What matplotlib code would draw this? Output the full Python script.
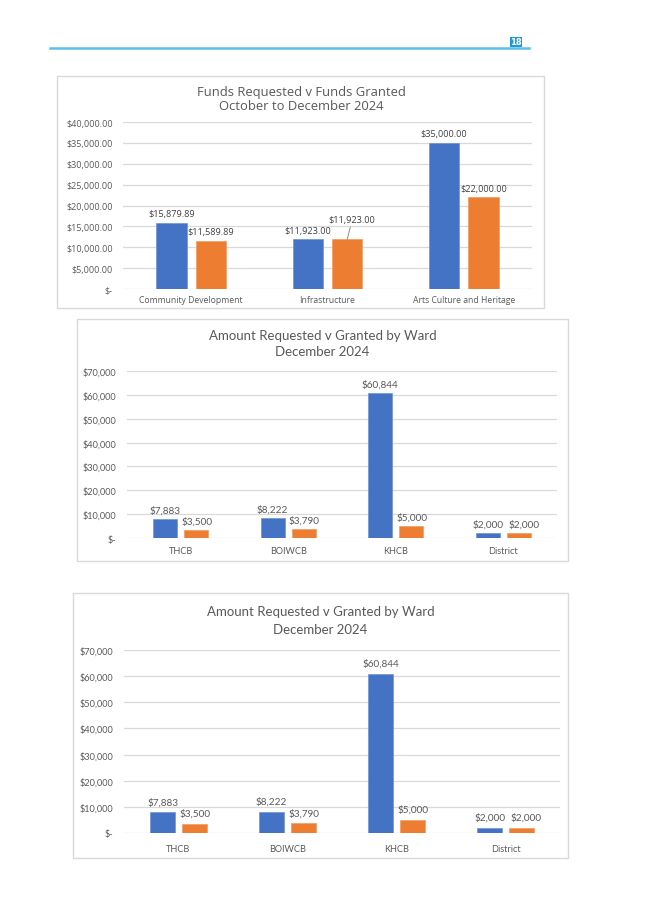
import matplotlib
matplotlib.use("Agg")
import matplotlib.pyplot as plt
from matplotlib.patches import Rectangle
import numpy as np

# ---------------- data ----------------
c1_categories = ["Community Development", "Infrastructure", "Arts Culture and Heritage"]
c1_requested = [15879.89, 11923.00, 35000.00]
c1_granted = [11589.89, 11923.00, 22000.00]
c1_title = "Funds Requested v Funds Granted\nOctober to December 2024"
c1_yticks = [0, 5000, 10000, 15000, 20000, 25000, 30000, 35000, 40000]

ward_categories = ["THCB", "BOIWCB", "KHCB", "District"]
ward_requested = [7883, 8222, 60844, 2000]
ward_granted = [3500, 3790, 5000, 2000]
ward_title = "Amount Requested v Granted by Ward\nDecember 2024"
ward_yticks = [0, 10000, 20000, 30000, 40000, 50000, 60000, 70000]

page_number = "18"

BLUE = "#4472C4"
ORANGE = "#ED7D31"
GRID = "#D9D9D9"
TXT = "#595959"
LBL = "#404040"

W, H = 645, 912
fig = plt.figure(figsize=(W / 100, H / 100), dpi=100)
fig.patch.set_facecolor("white")


def fx(x):
    return x / W


def fy(y):
    return 1 - y / H


def add_box(x0, y0, x1, y1):
    fig.patches.append(Rectangle((fx(x0), fy(y1)), fx(x1) - fx(x0), fy(y0) - fy(y1),
                                 transform=fig.transFigure, facecolor="none",
                                 edgecolor=GRID, linewidth=1.0, zorder=-1))


def add_axes(x0, y0, x1, y1):
    ax = fig.add_axes([fx(x0), fy(y1), fx(x1) - fx(x0), fy(y0) - fy(y1)])
    ax.set_facecolor("none")
    for s in ax.spines.values():
        s.set_visible(False)
    return ax


def money_dec(v):
    return "$-" if v == 0 else "${:,.2f}".format(v)


def money_int(v):
    return "$-" if v == 0 else "${:,.0f}".format(v)


# ---------------- header ----------------
fig.add_artist(plt.Line2D([fx(50), fx(529)], [fy(49), fy(49)], transform=fig.transFigure,
                          color="#5BC0E8", linewidth=1.8))
fig.patches.append(Rectangle((fx(510), fy(47.5)), fx(11.5), fy(37.5) - fy(47.5),
                             transform=fig.transFigure, facecolor="#1E9BD7",
                             edgecolor="none", zorder=1))
fig.text(fx(515.8), fy(42.6), page_number, color="white", fontsize=6, fontweight="bold",
         ha="center", va="center", family="DejaVu Sans", zorder=2)

# ---------------- chart 1 ----------------
add_box(57, 77, 544, 309)
ax1 = add_axes(123, 123, 532, 290)
x1 = np.arange(len(c1_categories))
off, bw = 0.145, 0.222
ax1.bar(x1 - off, c1_requested, bw, color=BLUE, edgecolor="#6F93D6", linewidth=0.5, zorder=3)
ax1.bar(x1 + off, c1_granted, bw, color=ORANGE, edgecolor="#F29B63", linewidth=0.5, zorder=3)
ax1.set_xlim(-0.5, len(c1_categories) - 0.5)
ax1.set_ylim(0, 40000)
ax1.set_yticks(c1_yticks)
ax1.set_yticklabels([money_dec(v) for v in c1_yticks])
ax1.set_xticks(x1)
ax1.set_xticklabels(c1_categories)
ax1.yaxis.grid(True, color=GRID, linewidth=0.9, zorder=0)
ax1.tick_params(axis="y", length=0, pad=7.5, labelsize=6.5, labelcolor=TXT)
ax1.tick_params(axis="x", length=0, pad=4, labelsize=6.2, labelcolor=TXT)
for lab in ax1.get_xticklabels() + ax1.get_yticklabels():
    lab.set_family("Open Sans")
for i, v in enumerate(c1_requested):
    ax1.annotate(money_dec(v), (x1[i] - off, v), xytext=(0, 6.5), textcoords="offset points",
                 ha="center", va="center", fontsize=6.6, color=LBL, family="Open Sans")
for i, v in enumerate(c1_granted):
    if i == 1:
        ax1.annotate(money_dec(v), (x1[i] + off, v), xytext=(3.5, 14), textcoords="offset points",
                     ha="center", va="center", fontsize=6.6, color=LBL, family="Open Sans",
                     arrowprops=dict(arrowstyle="-", color="#8C8C8C", linewidth=0.7,
                                     shrinkA=0, shrinkB=0))
    else:
        ax1.annotate(money_dec(v), (x1[i] + off, v), xytext=(0, 6.5), textcoords="offset points",
                     ha="center", va="center", fontsize=6.6, color=LBL, family="Open Sans")
fig.text(fx(301), fy(99.5), c1_title, ha="center", va="center", fontsize=9.4, color=TXT,
         family="Open Sans", linespacing=1.15)


# ---------------- ward charts ----------------
def ward_chart(box, axr, title_y, title_ls, lbl_off, xpad):
    add_box(*box)
    ax = add_axes(*axr)
    x = np.arange(len(ward_categories))
    off, bw = 0.145, 0.225
    ax.bar(x - off, ward_requested, bw, color=BLUE, edgecolor="#6F93D6", linewidth=0.5, zorder=3)
    ax.bar(x + off, ward_granted, bw, color=ORANGE, edgecolor="#F29B63", linewidth=0.5, zorder=3)
    ax.set_xlim(-0.5, len(ward_categories) - 0.5)
    ax.set_ylim(0, 70000)
    ax.set_yticks(ward_yticks)
    ax.set_yticklabels([money_int(v) for v in ward_yticks])
    ax.set_xticks(x)
    ax.set_xticklabels(ward_categories)
    ax.yaxis.grid(True, color=GRID, linewidth=0.9, zorder=0)
    ax.tick_params(axis="y", length=0, pad=7.5, labelsize=6.6, labelcolor=TXT)
    ax.tick_params(axis="x", length=0, pad=xpad, labelsize=6.6, labelcolor=TXT)
    for lab in ax.get_xticklabels() + ax.get_yticklabels():
        lab.set_family("Lato")
    for i, v in enumerate(ward_requested):
        ax.annotate(money_int(v), (x[i] - off, v), xytext=(0, lbl_off), textcoords="offset points",
                    ha="center", va="center", fontsize=7.2, color=TXT, family="Lato")
    for i, v in enumerate(ward_granted):
        dx = 3.5 if i == len(ward_granted) - 1 else 0.5
        ax.annotate(money_int(v), (x[i] + off, v), xytext=(dx, lbl_off), textcoords="offset points",
                    ha="center", va="center", fontsize=7.2, color=TXT, family="Lato")
    cx = (box[0] + box[2]) / 2
    fig.text(fx(cx), fy(title_y), ward_title, ha="center", va="center", fontsize=9.5,
             color=TXT, family="Lato", linespacing=title_ls)
    return ax


ward_chart((77, 320, 568, 562), (127, 372, 557, 539), 344, 1.45, 6.5, 6)
ward_chart((73, 594, 568, 859), (124, 651, 560, 834), 621, 1.65, 7.5, 8)

fig.savefig("out.png", dpi=100, facecolor="white")
